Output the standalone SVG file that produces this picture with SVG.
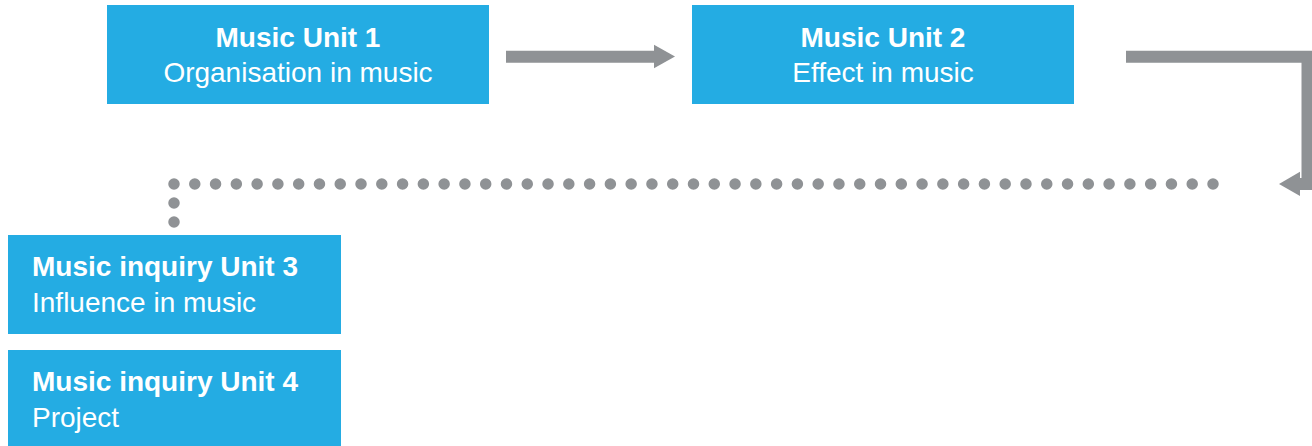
<svg xmlns="http://www.w3.org/2000/svg" width="1312" height="446" viewBox="0 0 1312 446">
<style>
.box{fill:#24ace3}
.t{font-family:"Liberation Sans",Arial,sans-serif;font-size:28px;fill:#fff}
.b{font-weight:bold}
.c{text-anchor:middle}
.line{fill:none;stroke:#8f9295;stroke-width:12}
.head{fill:#8f9295}
.dot{fill:#8f9295}
</style>
<rect width="1312" height="446" fill="#fff"/>
<g id="connectors">
<line class="line" x1="506" y1="56.7" x2="655" y2="56.7"/>
<polygon class="head" points="675,56.5 654,44.7 654,68.3"/>
<polyline class="line" points="1126,56.7 1307.5,56.7 1307.5,184 1299,184" stroke-linejoin="miter"/>
<polygon class="head" points="1279,184 1300,171.7 1300,196"/>
<path d="M174,184 H1214" fill="none" stroke="#8f9295" stroke-width="11.5" stroke-linecap="round" stroke-dasharray="0 20.78"/>
<circle class="dot" cx="174" cy="203" r="5.75"/>
<circle class="dot" cx="174" cy="222" r="5.75"/>
</g>
<g id="node1">
<rect class="box" x="107" y="5" width="382" height="99"/>
<text class="t b c" x="298" y="47">Music Unit 1</text>
<text class="t c" x="298" y="82">Organisation in music</text>
</g>
<g id="node2">
<rect class="box" x="692" y="5" width="382" height="99"/>
<text class="t b c" x="883" y="47">Music Unit 2</text>
<text class="t c" x="883" y="82">Effect in music</text>
</g>
<g id="node3">
<rect class="box" x="8" y="235" width="333" height="99"/>
<text class="t b" x="32" y="276">Music inquiry Unit 3</text>
<text class="t" x="32" y="312">Influence in music</text>
</g>
<g id="node4">
<rect class="box" x="8" y="350" width="333" height="96"/>
<text class="t b" x="32" y="391">Music inquiry Unit 4</text>
<text class="t" x="32" y="427">Project</text>
</g>
</svg>
